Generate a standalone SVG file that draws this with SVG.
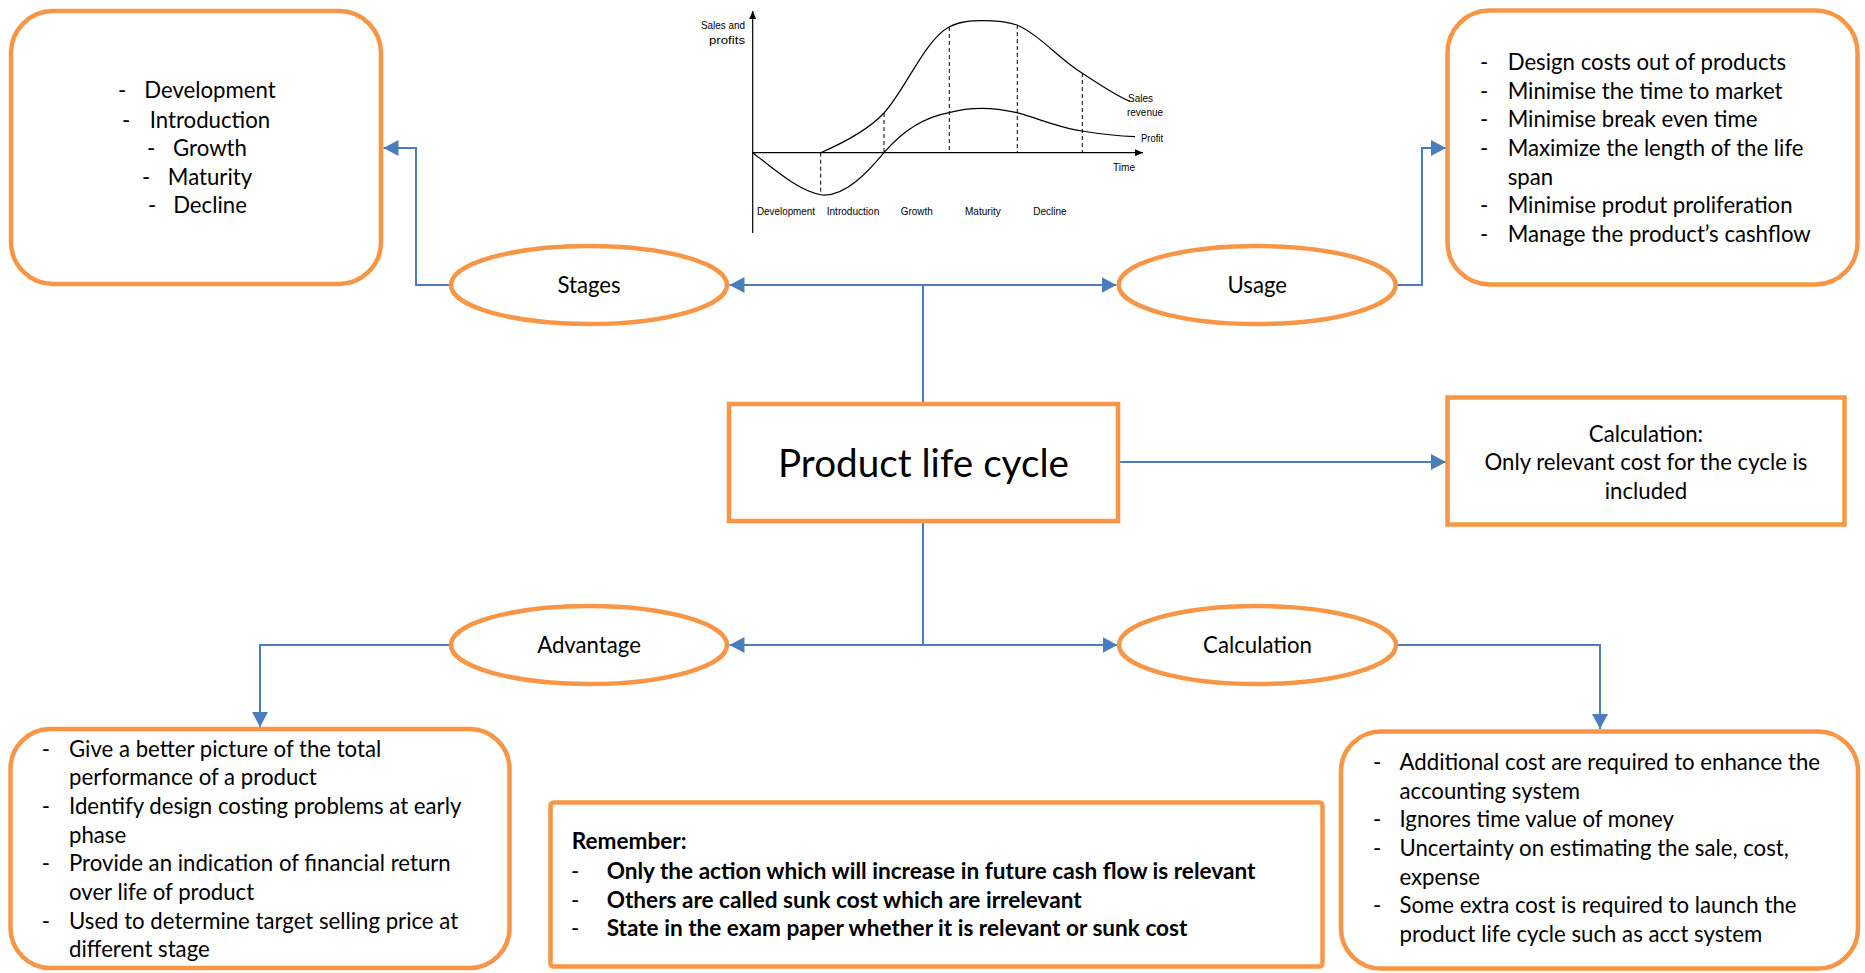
<svg xmlns="http://www.w3.org/2000/svg" width="1865" height="973" viewBox="0 0 1865 973">
<style>
.box{fill:#fff;stroke:#F79646;stroke-width:4.5}
.con{fill:none;stroke:#4A7EBB;stroke-width:2}
.t{font-family:Lato,"Open Sans","Liberation Sans",sans-serif;font-size:22.2px;fill:#000}
.b{font-weight:bold;font-size:22.6px}
.mid{text-anchor:middle}
.ch{font-family:"Liberation Sans",Arial,sans-serif;font-size:11.5px;fill:#000}
.cl{fill:none;stroke:#000;stroke-width:1.2}
.dash{fill:none;stroke:#000;stroke-width:1;stroke-dasharray:4 3}
</style>
<defs>
<marker id="arr" markerUnits="userSpaceOnUse" markerWidth="16" markerHeight="16" refX="15" refY="8" orient="auto">
<path d="M0,0 L15,8 L0,16 z" fill="#4A7EBB"/>
</marker>
<marker id="ca" markerUnits="userSpaceOnUse" markerWidth="9" markerHeight="7" refX="8" refY="3.5" orient="auto">
<path d="M0,0 L8,3.5 L0,7 z" fill="#000"/>
</marker>
</defs>

<g id="connectors">
<path class="con" d="M923,403 V285"/>
<path class="con" d="M923,285 H729.5" marker-end="url(#arr)"/>
<path class="con" d="M923,285 H1116.5" marker-end="url(#arr)"/>
<path class="con" d="M449,285 H416 V148 H383.5" marker-end="url(#arr)"/>
<path class="con" d="M1397,285 H1422 V148 H1446" marker-end="url(#arr)"/>
<path class="con" d="M1120,462 H1446" marker-end="url(#arr)"/>
<path class="con" d="M923,521 V645"/>
<path class="con" d="M923,645 H729.5" marker-end="url(#arr)"/>
<path class="con" d="M923,645 H1117.5" marker-end="url(#arr)"/>
<path class="con" d="M449,645 H260 V727" marker-end="url(#arr)"/>
<path class="con" d="M1397,645 H1600 V729" marker-end="url(#arr)"/>
</g>

<g id="chart">
<path class="cl" d="M752.7,233 V11" marker-end="url(#ca)"/>
<path class="cl" d="M752.7,152.7 H1143" marker-end="url(#ca)"/>
<path class="dash" d="M820.7,152.7 V195"/>
<path class="dash" d="M884,113 V152.7"/>
<path class="dash" d="M949.3,27 V152.7"/>
<path class="dash" d="M1017.3,25 V152.7"/>
<path class="dash" d="M1082.3,73 V152.7"/>
<path class="cl" d="M820.7,152.7 C850,140 870,128 884,113 C905,90 925,40 949,27 C960,21 972,20.7 983,20.7 C995,20.7 1008,22 1017,25 C1040,35 1060,60 1082,73 C1100,85 1115,95 1130,101.5"/>
<path class="cl" d="M752.7,152.7 C775,170 800,192 822,195 C845,197 868,172 884,152.7 C900,134 920,118 949,112.7 C962,109 972,108.3 982,108.3 C995,108.3 1005,110 1017,112.7 C1040,119 1060,128 1082,131 C1100,134 1115,136 1135,136.7"/>
<text class="ch" x="745" y="29.3" text-anchor="end" textLength="44" lengthAdjust="spacingAndGlyphs">Sales and</text>
<text class="ch" x="745" y="44.3" text-anchor="end" textLength="36" lengthAdjust="spacingAndGlyphs">profits</text>
<text class="ch" x="1128" y="101.7" textLength="25" lengthAdjust="spacingAndGlyphs">Sales</text>
<text class="ch" x="1127" y="116" textLength="36" lengthAdjust="spacingAndGlyphs">revenue</text>
<text class="ch" x="1141" y="141.7" textLength="22" lengthAdjust="spacingAndGlyphs">Profit</text>
<text class="ch" x="1113" y="170.7" textLength="22" lengthAdjust="spacingAndGlyphs">Time</text>
<text class="ch" x="757" y="215" textLength="58" lengthAdjust="spacingAndGlyphs">Development</text>
<text class="ch" x="826.7" y="215" textLength="52.6" lengthAdjust="spacingAndGlyphs">Introduction</text>
<text class="ch" x="900.7" y="215" textLength="32" lengthAdjust="spacingAndGlyphs">Growth</text>
<text class="ch" x="965" y="215" textLength="35.7" lengthAdjust="spacingAndGlyphs">Maturity</text>
<text class="ch" x="1033.3" y="215" textLength="33.3" lengthAdjust="spacingAndGlyphs">Decline</text>
</g>

<g id="stages-list">
<rect class="box" x="11" y="11" width="370" height="273" rx="42"/>
<text class="t" x="118" y="98.3">-</text><text class="t mid" x="210" y="98.3">Development</text>
<text class="t" x="122" y="127.7">-</text><text class="t mid" x="210" y="127.7">Introduction</text>
<text class="t" x="147" y="156">-</text><text class="t mid" x="210" y="156">Growth</text>
<text class="t" x="142" y="185">-</text><text class="t mid" x="210" y="185">Maturity</text>
<text class="t" x="148" y="213.3">-</text><text class="t mid" x="210" y="213.3">Decline</text>
</g>

<g id="usage-list">
<rect class="box" x="1447.5" y="10.5" width="410" height="274" rx="42"/>
<text class="t" x="1480" y="70">-</text><text class="t" x="1507.7" y="70">Design costs out of products</text>
<text class="t" x="1480" y="98.5">-</text><text class="t" x="1507.7" y="98.5">Minimise the time to market</text>
<text class="t" x="1480" y="127">-</text><text class="t" x="1507.7" y="127">Minimise break even time</text>
<text class="t" x="1480" y="155.7">-</text><text class="t" x="1507.7" y="155.7">Maximize the length of the life</text>
<text class="t" x="1507.7" y="184.5">span</text>
<text class="t" x="1480" y="213.2">-</text><text class="t" x="1507.7" y="213.2">Minimise produt proliferation</text>
<text class="t" x="1480" y="241.8">-</text><text class="t" x="1507.7" y="241.8">Manage the product’s cashflow</text>
</g>

<g id="stages">
<ellipse class="box" cx="589" cy="285" rx="138" ry="39"/>
<text class="t mid" x="589" y="292.7">Stages</text>
</g>
<g id="usage">
<ellipse class="box" cx="1257.2" cy="285" rx="138.5" ry="39"/>
<text class="t mid" x="1257.3" y="292.7">Usage</text>
</g>

<g id="main">
<rect class="box" x="729" y="404" width="389" height="117"/>
<text class="t mid" x="923.5" y="477" style="font-size:38px" textLength="291" lengthAdjust="spacingAndGlyphs">Product life cycle</text>
</g>

<g id="calc-note">
<rect class="box" x="1447.5" y="397.5" width="397" height="127"/>
<text class="t mid" x="1646" y="441.7">Calculation:</text>
<text class="t mid" x="1646" y="470.3">Only relevant cost for the cycle is</text>
<text class="t mid" x="1646" y="499">included</text>
</g>

<g id="advantage">
<ellipse class="box" cx="589" cy="645" rx="138" ry="39"/>
<text class="t mid" x="589" y="652.5">Advantage</text>
</g>
<g id="calculation">
<ellipse class="box" cx="1257.5" cy="645" rx="138.5" ry="39"/>
<text class="t mid" x="1257.5" y="652.5">Calculation</text>
</g>

<g id="advantage-list">
<rect class="box" x="10.5" y="729" width="499" height="239" rx="40"/>
<text class="t" x="41.7" y="756.7">-</text><text class="t" x="69" y="756.7">Give a better picture of the total</text>
<text class="t" x="69" y="785.3">performance of a product</text>
<text class="t" x="41.7" y="814">-</text><text class="t" x="69" y="814">Identify design costing problems at early</text>
<text class="t" x="69" y="842.7">phase</text>
<text class="t" x="41.7" y="871.4">-</text><text class="t" x="69" y="871.4">Provide an indication of financial return</text>
<text class="t" x="69" y="900">over life of product</text>
<text class="t" x="41.7" y="928.7">-</text><text class="t" x="69" y="928.7">Used to determine target selling price at</text>
<text class="t" x="69" y="957.4">different stage</text>
</g>

<g id="remember">
<rect class="box" x="550.5" y="802.5" width="772" height="164" rx="3"/>
<text class="t b" x="571.7" y="849.3">Remember:</text>
<text class="t" x="571" y="879.3">-</text><text class="t b" x="606.7" y="879.3">Only the action which will increase in future cash flow is relevant</text>
<text class="t" x="571" y="907.5">-</text><text class="t b" x="606.7" y="907.5">Others are called sunk cost which are irrelevant</text>
<text class="t" x="571" y="935.7">-</text><text class="t b" x="606.7" y="935.7">State in the exam paper whether it is relevant or sunk cost</text>
</g>

<g id="calculation-list">
<rect class="box" x="1341" y="731.5" width="517" height="237" rx="40"/>
<text class="t" x="1373" y="770">-</text><text class="t" x="1399.5" y="770">Additional cost are required to enhance the</text>
<text class="t" x="1399.5" y="798.7">accounting system</text>
<text class="t" x="1373" y="827.4">-</text><text class="t" x="1399.5" y="827.4">Ignores time value of money</text>
<text class="t" x="1373" y="856">-</text><text class="t" x="1399.5" y="856">Uncertainty on estimating the sale, cost,</text>
<text class="t" x="1399.5" y="884.7">expense</text>
<text class="t" x="1373" y="913.4">-</text><text class="t" x="1399.5" y="913.4">Some extra cost is required to launch the</text>
<text class="t" x="1399.5" y="942">product life cycle such as acct system</text>
</g>
</svg>
